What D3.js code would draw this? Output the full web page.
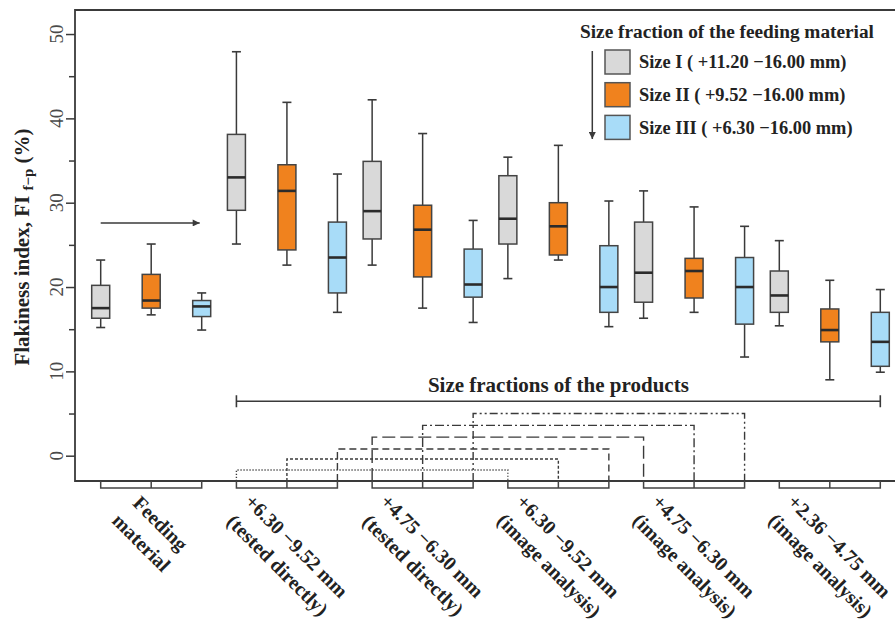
<!DOCTYPE html>
<html>
<head>
<meta charset="utf-8">
<script src="https://cdn.jsdelivr.net/npm/d3@7"></script>
<style>
  html, body { margin: 0; padding: 0; background: #fff; }
  svg { display: block; }
  text { font-family: "Liberation Serif", "Times New Roman", serif; }
</style>
</head>
<body>
<svg id="chart" width="895" height="622"></svg>
<script>
// ---------------- DATA ----------------
const groups = ["feed", "g1", "g2", "g3", "g4", "g5"];
const groupLine1 = ["Feeding", "+6.30 \u22129.52 mm", "+4.75 \u22126.30 mm", "+6.30 \u22129.52 mm", "+4.75 \u22126.30 mm", "+2.36 \u22124.75 mm"];
const groupLine2 = ["material", "(tested directly)", "(tested directly)", "(image analysis)", "(image analysis)", "(image analysis)"];

const seriesNames = ["Size I ( +11.20 \u221216.00 mm)", "Size II ( +9.52 \u221216.00 mm)", "Size III ( +6.30 \u221216.00 mm)"];
const seriesColors = ["#d9d9d9", "#f0821e", "#a8dcf8"];

// [min, q1, median, q3, max] per group
const sizeI = [
  [15.2, 16.3, 17.5, 20.2, 23.2],
  [25.1, 29.1, 33.0, 38.1, 47.9],
  [22.6, 25.7, 29.0, 34.9, 42.2],
  [21.0, 25.1, 28.1, 33.2, 35.4],
  [16.3, 18.2, 21.7, 27.7, 31.4],
  [15.4, 17.0, 19.0, 21.9, 25.5]
];
const sizeII = [
  [16.7, 17.5, 18.4, 21.5, 25.1],
  [22.6, 24.4, 31.4, 34.5, 41.9],
  [17.5, 21.2, 26.8, 29.7, 38.2],
  [23.2, 23.8, 27.2, 30.0, 36.8],
  [17.0, 18.7, 21.9, 23.4, 29.5],
  [9.0, 13.5, 14.9, 17.4, 20.8]
];
const sizeIII = [
  [14.9, 16.5, 17.7, 18.4, 19.3],
  [17.0, 19.3, 23.5, 27.7, 33.4],
  [15.8, 18.8, 20.3, 24.5, 27.9],
  [15.3, 17.0, 20.0, 24.9, 30.2],
  [11.7, 15.6, 20.0, 23.5, 27.2],
  [9.9, 10.6, 13.5, 17.0, 19.7]
];
const seriesData = [sizeI, sizeII, sizeIII];

const yMajorTicks = [0, 10, 20, 30, 40, 50];
const yMinorTicks = [5, 15, 25, 35, 45];

// connectors between "tested directly" and "image analysis" fractions
const connFrom = [1, 1, 1, 2, 2, 2];
const connTo = [3, 3, 3, 4, 4, 4];
const connSeries = [0, 1, 2, 0, 1, 2];
const connLevel = [-1.7, -0.4, 0.8, 2.2, 3.6, 5.0];
const connDash = ["1.2,1.8", "3,2", "7,4", "13,5", "9,3,2,3", "8,3,2,3,2,3"];

const arrowLevel = 27.6;
const productsLevel = 6.45;

// ---------------- LAYOUT ----------------
const svg = d3.select("#chart");
const pLeft = 75, pTop = 10, pBottom = 481, pRight = 900;
const ink = "#3a3a3a";

const y = d3.scaleLinear().domain([-3, 52.85]).range([pBottom, pTop]);
const x0 = d3.scalePoint().domain(groups).range([100.7, 779.3]);
const x1 = d3.scalePoint().domain(d3.range(3)).range([0, 101]);
const cx = (g, s) => x0(groups[g]) + x1(s);
const boxW = 18, capW = 9;

// frame
svg.append("path")
  .attr("d", `M${pRight},${pTop}H${pLeft}V${pBottom}H${pRight}`)
  .attr("fill", "none").attr("stroke", ink).attr("stroke-width", 1.8);

// y axis ticks
const yAxis = d3.axisLeft(y).tickValues(yMajorTicks).tickSize(9).tickFormat("");
const gAx = svg.append("g").attr("transform", `translate(${pLeft},0)`).call(yAxis);
gAx.select(".domain").remove();
gAx.selectAll(".tick line").attr("stroke", ink).attr("stroke-width", 1.5);
const yAxisMinor = d3.axisLeft(y).tickValues(yMinorTicks).tickSize(6).tickFormat("");
const gAxm = svg.append("g").attr("transform", `translate(${pLeft},0)`).call(yAxisMinor);
gAxm.select(".domain").remove();
gAxm.selectAll(".tick line").attr("stroke", ink).attr("stroke-width", 1.5);

svg.selectAll(".ylab").data(yMajorTicks).enter().append("text")
  .attr("transform", d => `translate(56,${y(d)}) rotate(-90)`)
  .attr("text-anchor", "middle").attr("dy", "0.35em")
  .attr("font-size", 19).attr("fill", "#4a4a4a")
  .text(d => d);

// y axis title
const yt = svg.append("text")
  .attr("transform", `translate(22,247) rotate(-90)`)
  .attr("text-anchor", "middle").attr("dy", "0.35em")
  .attr("font-size", 21).attr("font-weight", "bold").attr("fill", "#222");
yt.append("tspan").text("Flakiness index, FI ");
yt.append("tspan").attr("font-size", 15).attr("dy", 4).text("f\u2212p");
yt.append("tspan").attr("dy", -4).text(" (%)");

// boxes
seriesData.forEach((ser, s) => {
  ser.forEach((d, g) => {
    const c = cx(g, s);
    const [mn, q1, md, q3, mx] = d;
    const gg = svg.append("g");
    gg.append("line").attr("x1", c).attr("x2", c).attr("y1", y(mx)).attr("y2", y(q3))
      .attr("stroke", ink).attr("stroke-width", 1.5);
    gg.append("line").attr("x1", c).attr("x2", c).attr("y1", y(q1)).attr("y2", y(mn))
      .attr("stroke", ink).attr("stroke-width", 1.5);
    gg.append("line").attr("x1", c - capW / 2).attr("x2", c + capW / 2).attr("y1", y(mx)).attr("y2", y(mx))
      .attr("stroke", ink).attr("stroke-width", 1.6);
    gg.append("line").attr("x1", c - capW / 2).attr("x2", c + capW / 2).attr("y1", y(mn)).attr("y2", y(mn))
      .attr("stroke", ink).attr("stroke-width", 1.6);
    gg.append("rect").attr("x", c - boxW / 2).attr("y", y(q3))
      .attr("width", boxW).attr("height", y(q1) - y(q3))
      .attr("fill", seriesColors[s]).attr("stroke", "#444").attr("stroke-width", 1.5);
    gg.append("line").attr("x1", c - boxW / 2).attr("x2", c + boxW / 2).attr("y1", y(md)).attr("y2", y(md))
      .attr("stroke", "#2b2b2b").attr("stroke-width", 2.6);
  });
});

// arrow markers
const defs = svg.append("defs");
defs.append("marker").attr("id", "ah").attr("viewBox", "0 0 10 10")
  .attr("refX", 10).attr("refY", 5).attr("markerWidth", 9).attr("markerHeight", 7)
  .attr("markerUnits", "userSpaceOnUse").attr("orient", "auto")
  .append("path").attr("d", "M0,0L10,5L0,10Z").attr("fill", ink);

// horizontal arrow above feeding material
svg.append("line")
  .attr("x1", cx(0, 0)).attr("x2", cx(0, 2) - 2).attr("y1", y(arrowLevel)).attr("y2", y(arrowLevel))
  .attr("stroke", ink).attr("stroke-width", 1.6).attr("marker-end", "url(#ah)");

// brackets below axis
groups.forEach((gname, g) => {
  const a = cx(g, 0), m = cx(g, 1), b = cx(g, 2);
  svg.append("path")
    .attr("d", `M${a},${pBottom}V${pBottom + 7}H${b}V${pBottom}M${m},${pBottom}V${pBottom + 7}`)
    .attr("fill", "none").attr("stroke", "#444").attr("stroke-width", 1.5);
});

// connectors
connFrom.forEach((gf, i) => {
  const xa = cx(gf, connSeries[i]), xb = cx(connTo[i], connSeries[i]);
  svg.append("path")
    .attr("d", `M${xa},${pBottom}V${y(connLevel[i])}H${xb}V${pBottom}`)
    .attr("fill", "none").attr("stroke", "#3a3a3a").attr("stroke-width", 1.4)
    .attr("stroke-dasharray", connDash[i]);
});

// products span line
const px1 = cx(1, 0), px2 = cx(5, 2), py = y(productsLevel);
svg.append("path")
  .attr("d", `M${px1},${py}H${px2}M${px1},${py - 6}V${py + 6}M${px2},${py - 6}V${py + 6}`)
  .attr("fill", "none").attr("stroke", ink).attr("stroke-width", 1.6);
svg.append("text").attr("x", (px1 + px2) / 2).attr("y", py - 9)
  .attr("text-anchor", "middle").attr("font-size", 21).attr("font-weight", "bold").attr("fill", "#222")
  .text("Size fractions of the products");

// x labels rotated 45deg
const labelTop = 490, lineGap = 27;
groups.forEach((gname, g) => {
  const outer = svg.append("g");
  const inner = outer.append("g");
  [groupLine1[g], groupLine2[g]].forEach((t, k) => {
    inner.append("text").attr("x", 0).attr("y", k * lineGap)
      .attr("text-anchor", "middle").attr("font-size", 20).attr("font-weight", "bold").attr("fill", "#222")
      .text(t);
  });
  const bb = inner.node().getBBox();
  inner.attr("transform", `translate(${-(bb.x + bb.width / 2)},${-(bb.y + bb.height / 2)})`);
  const half = (bb.width + bb.height) / (2 * Math.SQRT2);
  outer.attr("transform", `translate(${cx(g, 1)},${labelTop + half}) rotate(45)`);
});

// legend
const lg = svg.append("g");
lg.append("text").attr("x", 580).attr("y", 38).attr("font-size", 19.3).attr("font-weight", "bold").attr("fill", "#222")
  .text("Size fraction of the feeding material");
seriesNames.forEach((nm, s) => {
  const yy = 50 + s * 32.7;
  lg.append("rect").attr("x", 605).attr("y", yy).attr("width", 25).attr("height", 24)
    .attr("fill", seriesColors[s]).attr("stroke", "#555").attr("stroke-width", 1.5);
  lg.append("text").attr("x", 639).attr("y", yy + 12).attr("dy", "0.35em")
    .attr("font-size", 18.4).attr("font-weight", "bold").attr("fill", "#222").text(nm);
});
lg.append("line").attr("x1", 592.3).attr("x2", 592.3).attr("y1", 51).attr("y2", 139)
  .attr("stroke", ink).attr("stroke-width", 1.5).attr("marker-end", "url(#ah)");
</script>
</body>
</html>
